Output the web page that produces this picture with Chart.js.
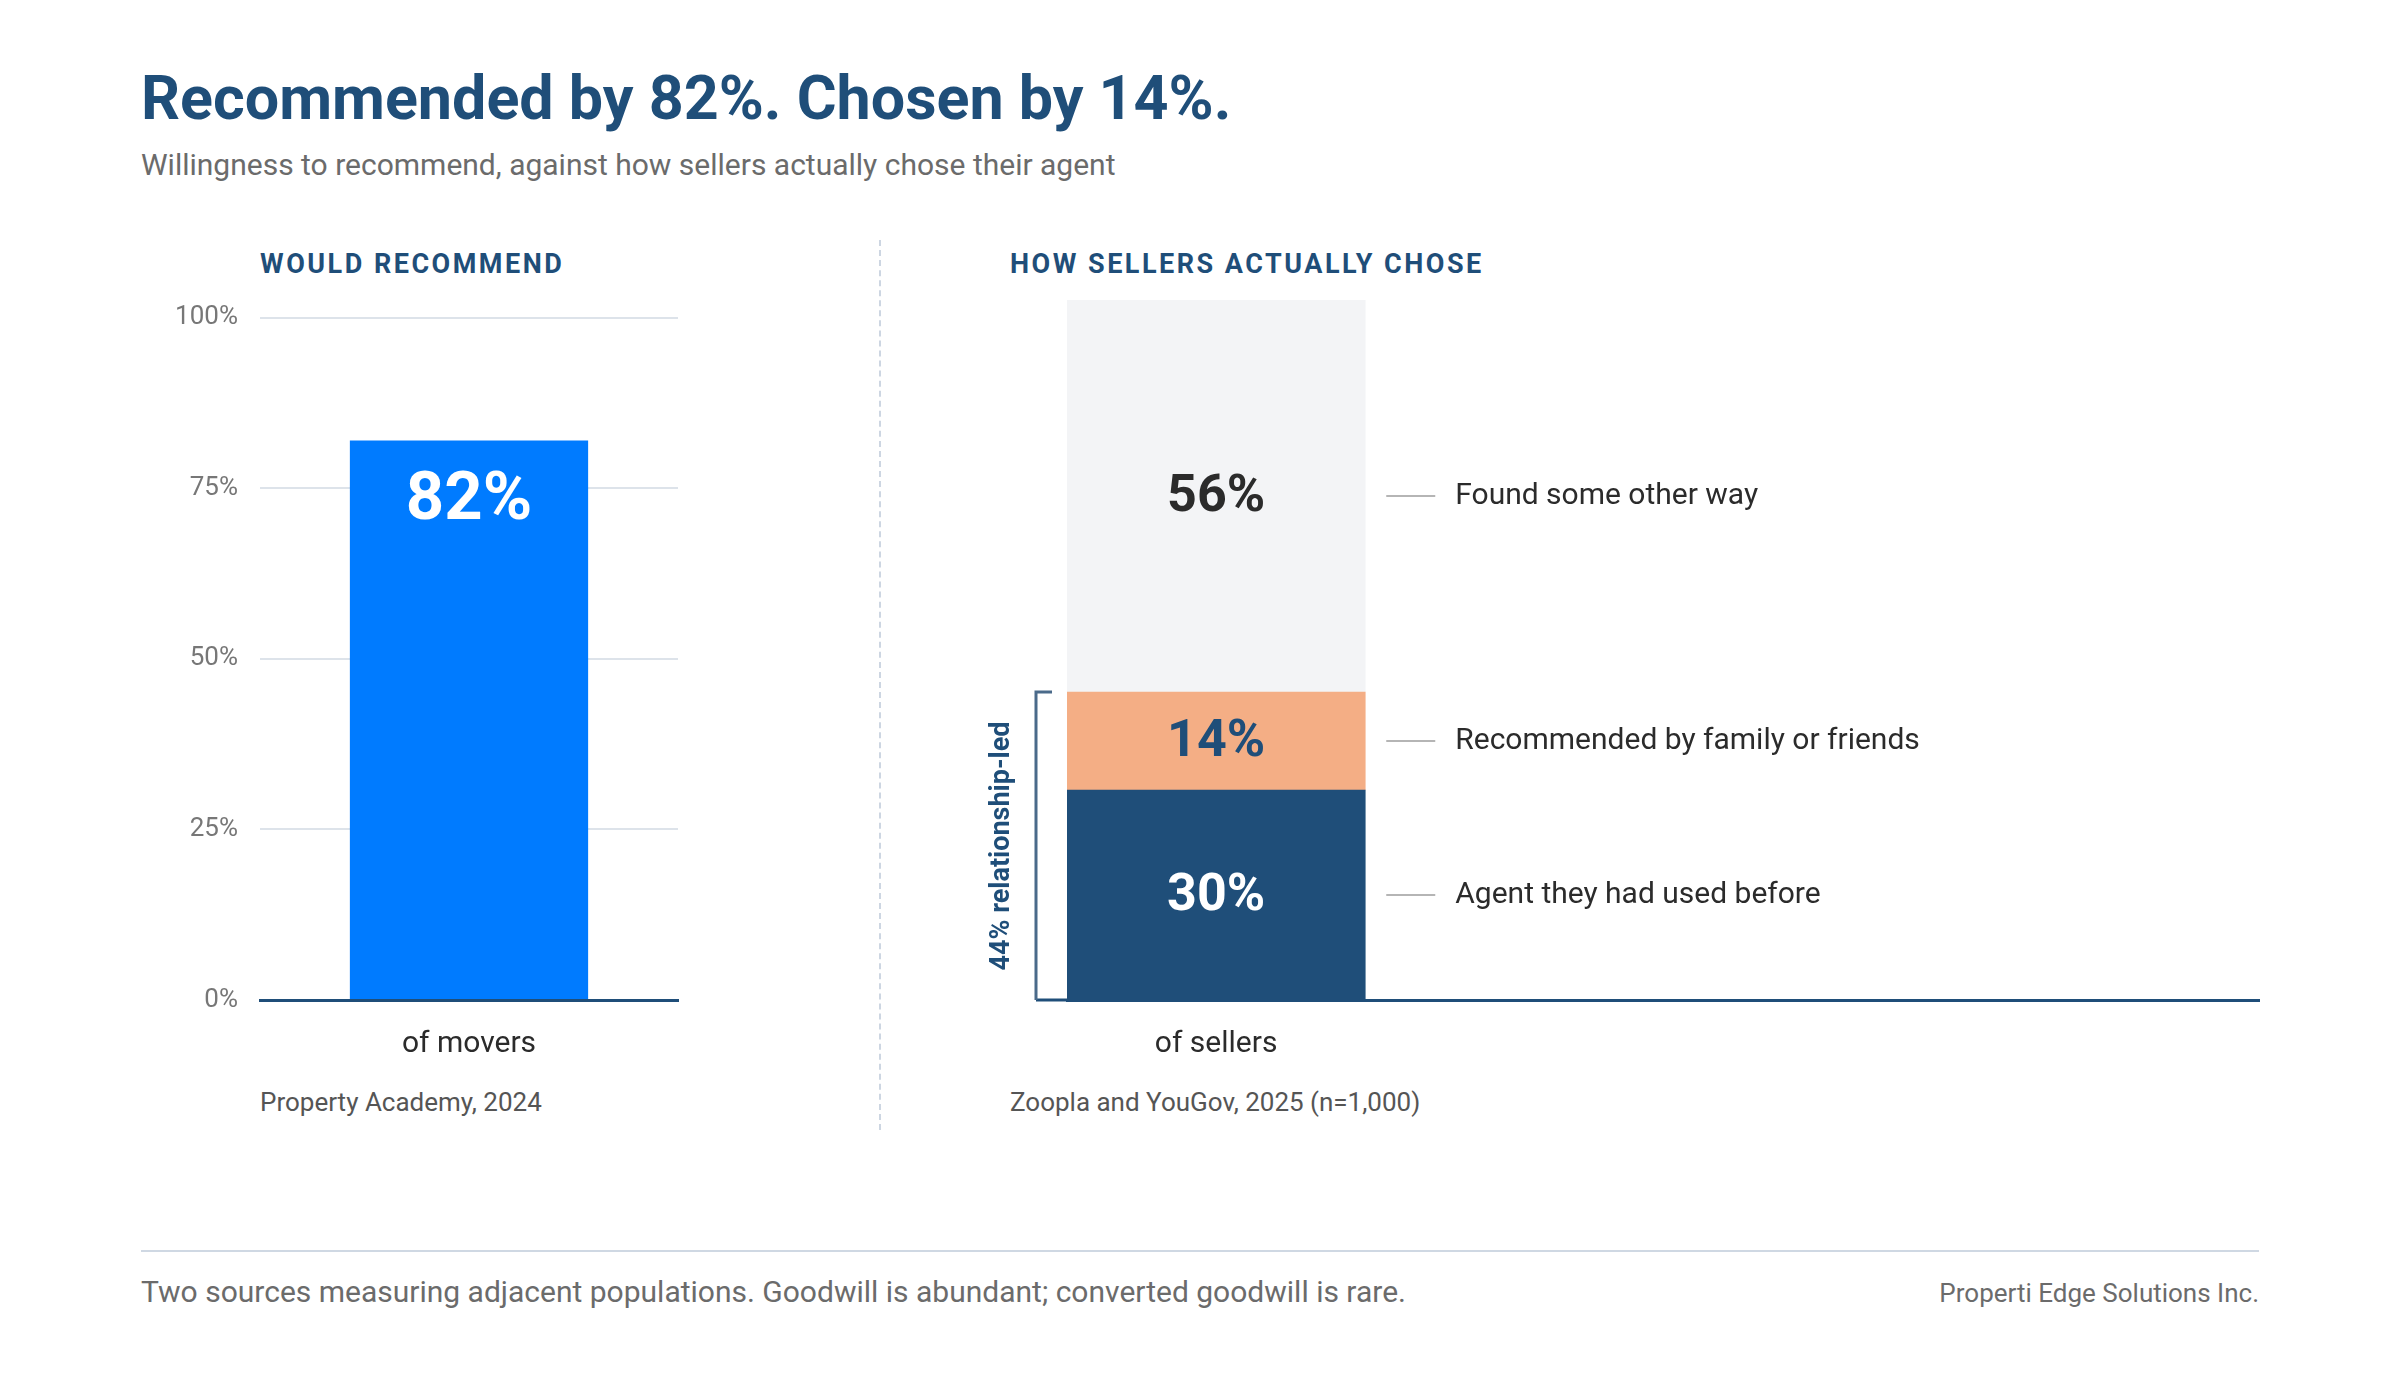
<!DOCTYPE html>
<html><head><meta charset="utf-8">
<script src="https://cdn.jsdelivr.net/npm/chart.js@4"></script>
<style>
  body { margin:0; background:#fff; font-family: Roboto, "Noto Sans", sans-serif; }
  #page { position:relative; width:2400px; height:1400px; }
  .t { position:absolute; white-space:nowrap; }
  canvas { position:absolute; }
</style></head>
<body><div id="page">
  <div class="t" style="left:141px;top:62px;font-size:61px;font-weight:700;color:#1f4e79;">Recommended by 82%. Chosen by 14%.</div>
  <div class="t" style="left:141px;top:147px;font-size:30px;color:#6b6b6b;">Willingness to recommend, against how sellers actually chose their agent</div>
  <div class="t" style="left:260px;top:248px;font-size:27px;font-weight:700;color:#1f4e79;letter-spacing:2.5px;">WOULD RECOMMEND</div>
  <div class="t" style="left:1010px;top:248px;font-size:27px;font-weight:700;color:#1f4e79;letter-spacing:2.5px;">HOW SELLERS ACTUALLY CHOSE</div>
  <div style="position:absolute;left:879px;top:240px;height:890px;border-left:2px dashed #cdd6e2;"></div>
  <div class="t" style="left:260px;top:1087px;font-size:26px;color:#555;">Property Academy, 2024</div>
  <div class="t" style="left:1010px;top:1087px;font-size:26px;color:#555;">Zoopla and YouGov, 2025 (n=1,000)</div>
  <div style="position:absolute;left:141px;top:1250px;width:2118px;border-top:2px solid #cfd8e3;"></div>
  <div class="t" style="left:141px;top:1274px;font-size:30px;color:#6b6b6b;">Two sources measuring adjacent populations. Goodwill is abundant; converted goodwill is rare.</div>
  <div class="t" style="right:141px;top:1278px;font-size:26px;color:#6b6b6b;">Properti Edge Solutions Inc.</div>
  <canvas id="left" style="left:140px;top:280px;width:540px;height:800px;"></canvas>
  <canvas id="right" style="left:960px;top:280px;width:1300px;height:800px;"></canvas>
</div>
<script>
const leftLabels = ['of movers'];
const leftValues = [82];
const yTicks = [0, 25, 50, 75, 100];

const rightLabels = ['of sellers', '', '', ''];
const segNames = ['Agent they had used before', 'Recommended by family or friends', 'Found some other way'];
const segValues = [30, 14, 56];
const segColors = ['#1f4e79', '#f4ae85', '#f3f4f6'];
const segTextColors = ['#ffffff', '#1f4e79', '#2b2b2b'];
const bracketLabel = '44% relationship-led';

Chart.defaults.font.family = 'Roboto, "Noto Sans", sans-serif';
Chart.defaults.animation = false;

new Chart(document.getElementById('left'), {
  type: 'bar',
  data: { labels: leftLabels, datasets: [{ data: leftValues, backgroundColor: '#007bff',
    barPercentage: 0.57, categoryPercentage: 1 }] },
  options: {
    responsive: false, devicePixelRatio: 1,
    layout: { padding: { top: 20, right: 2, left: 0, bottom: 0 } },
    plugins: { legend: { display: false }, tooltip: { enabled: false } },
    scales: {
      x: { grid: { display: false }, border: { color: '#1f4e79', width: 3 },
        ticks: { color: '#2b2b2b', font: { size: 30 }, padding: 18 },
        afterFit: s => { s.height = 80; } },
      y: { min: 0, max: 100, afterFit: s => { s.width = 120; },
        afterBuildTicks: s => { s.ticks = yTicks.map(v => ({ value: v })); },
        grid: { color: '#dde3ea', lineWidth: 2, drawTicks: false }, border: { display: false },
        ticks: { color: '#777', font: { size: 26 }, padding: 22, callback: v => v + '%' } }
    }
  },
  plugins: [{ id: 'lbl', afterDatasetsDraw(c) {
    const ctx = c.ctx, bar = c.getDatasetMeta(0).data[0];
    ctx.save(); ctx.fillStyle = '#fff'; ctx.font = '700 67px Roboto';
    ctx.textAlign = 'center'; ctx.textBaseline = 'middle';
    ctx.fillText(leftValues[0] + '%', bar.x, bar.y + 62);
    ctx.restore();
  } }]
});

new Chart(document.getElementById('right'), {
  type: 'bar',
  data: { labels: rightLabels, datasets: segValues.map((v, i) => ({
    label: segNames[i], data: [v], backgroundColor: segColors[i],
    barPercentage: 1, categoryPercentage: 1 })) },
  options: {
    responsive: false, devicePixelRatio: 1,
    layout: { padding: { top: 20, right: 0, left: 107, bottom: 0 } },
    plugins: { legend: { display: false }, tooltip: { enabled: false } },
    scales: {
      x: { stacked: true, grid: { display: false }, border: { color: '#1f4e79', width: 3 },
        ticks: { color: '#2b2b2b', font: { size: 30 }, padding: 18 },
        afterFit: s => { s.height = 80; } },
      y: { stacked: true, min: 0, max: 100, display: false }
    }
  },
  plugins: [{ id: 'ann', afterDatasetsDraw(c) {
    const ctx = c.ctx, y = c.scales.y, area = c.chartArea;
    ctx.save();
    // axis extension
    ctx.strokeStyle = '#1f4e79'; ctx.lineWidth = 3;
    ctx.beginPath(); ctx.moveTo(76, area.bottom); ctx.lineTo(area.left, area.bottom); ctx.stroke();
    let base = 0;
    segValues.forEach((v, i) => {
      const bar = c.getDatasetMeta(i).data[0];
      const cy = y.getPixelForValue(base + v / 2);
      base += v;
      ctx.fillStyle = segTextColors[i]; ctx.font = '700 52px Roboto';
      ctx.textAlign = 'center'; ctx.textBaseline = 'middle';
      ctx.fillText(v + '%', bar.x, cy + 2);
      const right = bar.x + bar.width / 2;
      ctx.strokeStyle = '#b5b5b5'; ctx.lineWidth = 2;
      ctx.beginPath(); ctx.moveTo(right + 21, cy); ctx.lineTo(right + 70, cy); ctx.stroke();
      ctx.fillStyle = '#2b2b2b'; ctx.font = '30px Roboto'; ctx.textAlign = 'left';
      ctx.fillText(segNames[i], right + 90, cy);
    });
    // bracket
    const rel = segValues[0] + segValues[1];
    const top = y.getPixelForValue(rel);
    ctx.strokeStyle = '#4a6a8a'; ctx.lineWidth = 3;
    ctx.beginPath(); ctx.moveTo(92, top); ctx.lineTo(76, top); ctx.lineTo(76, area.bottom); ctx.stroke();
    ctx.translate(42, (top + area.bottom) / 2); ctx.rotate(-Math.PI / 2);
    ctx.fillStyle = '#1f4e79'; ctx.font = '700 27px Roboto';
    ctx.textAlign = 'center'; ctx.textBaseline = 'middle';
    ctx.fillText(bracketLabel, 0, 0);
    ctx.restore();
  } }]
});
</script>
</body></html>
